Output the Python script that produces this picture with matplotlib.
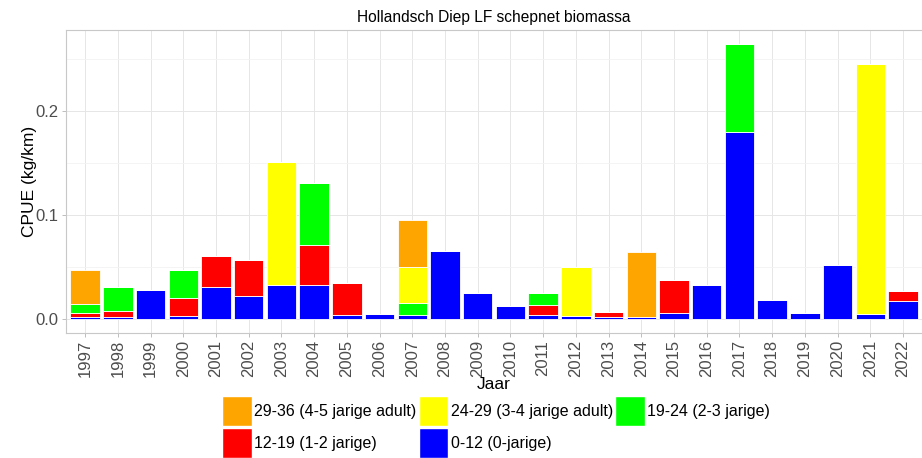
import matplotlib.pyplot as plt
import matplotlib.patches as mpatches
import numpy as np

plt.rcParams['font.family'] = ['Liberation Sans', 'DejaVu Sans']

years = [str(y) for y in range(1997, 2023)]

# biomass per length class (kg/km), stacked from the bottom up
blauw = [0.0017, 0.0020, 0.0277, 0.0034, 0.0306, 0.0226, 0.0332, 0.0332, 0.0043, 0.0050,
         0.0037, 0.0655, 0.0248, 0.0123, 0.0037, 0.0030, 0.0017, 0.0017, 0.0062, 0.0325,
         0.1800, 0.0184, 0.0056, 0.0520, 0.0046, 0.0178]
rood = [0.0039, 0.0060, 0, 0.0166, 0.0304, 0.0344, 0, 0.0378, 0.0305, 0,
        0, 0, 0, 0, 0.0099, 0, 0.0052, 0, 0.0315, 0,
        0, 0, 0, 0, 0, 0.0089]
groen = [0.0090, 0.0226, 0, 0.0270, 0, 0, 0, 0.0596, 0, 0,
         0.0122, 0, 0, 0, 0.0119, 0, 0, 0, 0, 0,
         0.0850, 0, 0, 0, 0, 0]
geel = [0, 0, 0, 0, 0, 0, 0.1176, 0, 0, 0,
        0.0341, 0, 0, 0, 0, 0.0468, 0, 0, 0, 0,
        0, 0, 0, 0, 0.2414, 0]
oranje = [0.0330, 0, 0, 0, 0, 0, 0, 0, 0, 0,
          0.0450, 0, 0, 0, 0, 0, 0, 0.0629, 0, 0,
          0, 0, 0, 0, 0, 0]

reeksen = [
    (blauw, '#0000FF', '0-12 (0-jarige)'),
    (rood, '#FF0000', '12-19 (1-2 jarige)'),
    (groen, '#00FF00', '19-24 (2-3 jarige)'),
    (geel, '#FFFF00', '24-29 (3-4 jarige adult)'),
    (oranje, '#FFA500', '29-36 (4-5 jarige adult)'),
]

fig = plt.figure(figsize=(9.22, 4.58), dpi=100)
ax = fig.add_axes([65.5 / 922, 1 - 333 / 458, (922.6 - 65.5) / 922, 303 / 458])

x = np.arange(len(years))
onder = np.zeros(len(years))
patches = {}
for waarden, kleur, label in reeksen:
    w = np.array(waarden)
    ax.bar(x, w, 0.9, bottom=onder, color=kleur, edgecolor='white', linewidth=0.6, zorder=3)
    patches[label] = mpatches.Patch(facecolor=kleur, edgecolor='white', label=label)
    onder += w

ymax = onder.max()
ax.set_xlim(-0.6, len(years) - 0.4)
ax.set_ylim(-0.05 * ymax, 1.05 * ymax)

ax.set_xticks(x)
ax.set_xticklabels(years, rotation=90)
ax.set_yticks([0.0, 0.1, 0.2])
ax.set_yticklabels(['0.0', '0.1', '0.2'])
ax.set_yticks([0.05, 0.15, 0.25], minor=True)
ax.tick_params(axis='both', which='major', labelsize=12, labelcolor='#4d4d4d',
               color='#b3b3b3', length=3, width=0.6, pad=2)
ax.tick_params(axis='y', which='minor', length=0)

ax.grid(True, which='major', color='#e6e6e6', linewidth=0.7, zorder=0)
ax.grid(True, which='minor', axis='y', color='#f2f2f2', linewidth=0.6, zorder=0)
ax.set_axisbelow(True)
for s in ax.spines.values():
    s.set_color('#c8c8c8')
    s.set_linewidth(0.8)

ax.set_title('Hollandsch Diep LF schepnet biomassa', fontsize=11.2, pad=6)
ax.set_xlabel('Jaar', fontsize=12.5, labelpad=0)
ax.set_ylabel('CPUE (kg/km)', fontsize=12.5, labelpad=-1)

volgorde = ['29-36 (4-5 jarige adult)', '12-19 (1-2 jarige)',
            '24-29 (3-4 jarige adult)', '0-12 (0-jarige)',
            '19-24 (2-3 jarige)']
fig.legend(handles=[patches[k] for k in volgorde], loc='upper left',
           bbox_to_anchor=(222 / 922, 1 - 396 / 458), ncol=3, frameon=False,
           fontsize=11.5, handlelength=1.85, handleheight=2.5, handletextpad=0.15,
           columnspacing=0.15, labelspacing=0.15, borderpad=0, borderaxespad=0)

fig.savefig('out.png', dpi=100)
